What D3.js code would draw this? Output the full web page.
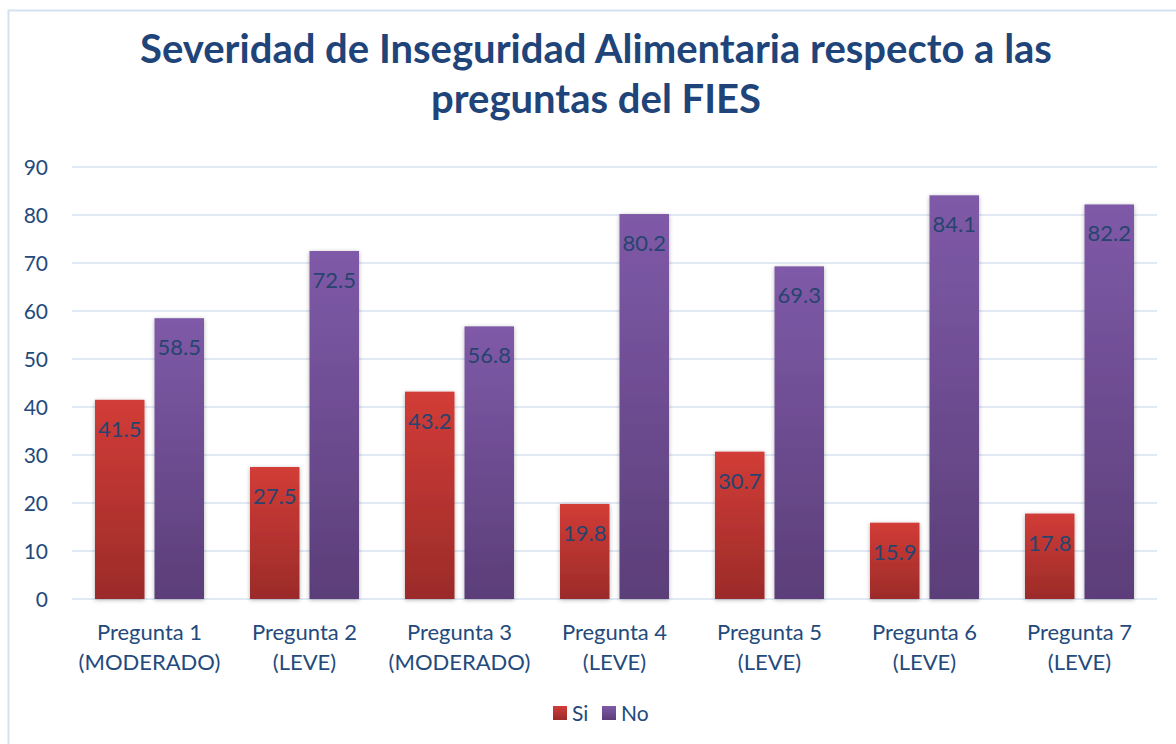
<!DOCTYPE html>
<html><head><meta charset="utf-8">
<script src="https://cdn.jsdelivr.net/npm/d3@7"></script>
<style>body{margin:0;background:#fff;} svg{display:block;}</style>
</head><body>
<script>
const categories = [["Pregunta 1","(MODERADO)"],["Pregunta 2","(LEVE)"],["Pregunta 3","(MODERADO)"],["Pregunta 4","(LEVE)"],["Pregunta 5","(LEVE)"],["Pregunta 6","(LEVE)"],["Pregunta 7","(LEVE)"]];
const siValues = [41.5, 27.5, 43.2, 19.8, 30.7, 15.9, 17.8];
const noValues = [58.5, 72.5, 56.8, 80.2, 69.3, 84.1, 82.2];
const seriesNames = ["Si", "No"];
const yTicks = [0,10,20,30,40,50,60,70,80,90];
const titleLines = ["Severidad de Inseguridad Alimentaria respecto a las", "preguntas del FIES"];

const W = 1176, H = 744;
const font = "Lato, 'Open Sans', sans-serif";
const textCol = "#244a7c";
const svg = d3.select("body").append("svg").attr("width", W).attr("height", H);
const defs = svg.append("defs");
function grad(id, top, bot){
  const g = defs.append("linearGradient").attr("id", id).attr("x1",0).attr("y1",0).attr("x2",0).attr("y2",1);
  g.append("stop").attr("offset","0%").attr("stop-color",top);
  g.append("stop").attr("offset","100%").attr("stop-color",bot);
}
grad("gSi", "#d23c37", "#9b2b29");
grad("gNo", "#7f5aa8", "#5b3e79");
const f = defs.append("filter").attr("id","shadow").attr("x","-20%").attr("y","-5%").attr("width","140%").attr("height","110%");
f.append("feDropShadow").attr("dx",0).attr("dy",1).attr("stdDeviation",2.2).attr("flood-color","#000").attr("flood-opacity",0.3);

// border
svg.append("rect").attr("x",8.5).attr("y",10.5).attr("width",1180).attr("height",760)
  .attr("fill","none").attr("stroke","#d5e2f1").attr("stroke-width",2);

// title
svg.append("g").selectAll("text").data(titleLines).join("text")
  .attr("x", 596).attr("y",(d,i)=>63 + i*50)
  .attr("text-anchor","middle").attr("font-family",font).attr("font-weight","bold")
  .attr("font-size",40).attr("fill","#1f4479").text(d=>d);

const x0 = d3.scaleBand().domain(d3.range(categories.length)).range([72,1157]);
const x1 = d3.scaleBand().domain(seriesNames).range([x0.bandwidth()/2 - 54.5, x0.bandwidth()/2 + 54.5]).paddingInner(0.168);
const y = d3.scaleLinear().domain([0,90]).range([599,167]);

// grid
svg.append("g").selectAll("line").data(yTicks).join("line")
  .attr("x1",72).attr("x2",1157).attr("y1",d=>y(d)).attr("y2",d=>y(d))
  .attr("stroke","#d6e2f0").attr("stroke-width",1.5);

// y axis labels
const yAxis = d3.axisLeft(y).tickValues(yTicks).tickSize(0).tickPadding(0);
const yg = svg.append("g").attr("transform","translate(48,0)").call(yAxis);
yg.select(".domain").remove();
yg.selectAll("text").attr("font-family",font).attr("font-size",21).attr("fill",textCol).attr("dy","0.35em");

const data = categories.map((c,i)=>({i, vals:[{s:"Si",v:siValues[i]},{s:"No",v:noValues[i]}]}));
const groups = svg.append("g").selectAll("g").data(data).join("g")
  .attr("transform", d=>`translate(${x0(d.i)},0)`);
groups.selectAll("rect").data(d=>d.vals).join("rect")
  .attr("x", d=>x1(d.s)).attr("width", x1.bandwidth())
  .attr("y", d=>y(d.v)).attr("height", d=>y(0)-y(d.v))
  .attr("fill", d=> d.s==="Si" ? "url(#gSi)" : "url(#gNo)")
  .attr("filter","url(#shadow)");
groups.selectAll("text.lbl").data(d=>d.vals).join("text").attr("class","lbl")
  .attr("x", d=>x1(d.s)+x1.bandwidth()/2).attr("y", d=>y(d.v)+37)
  .attr("text-anchor","middle").attr("font-family",font).attr("font-size",22)
  .attr("fill","#27446f").text(d=>d.v.toFixed(1));

// x labels
const xg = svg.append("g").selectAll("text").data(categories).join("text")
  .attr("x",(d,i)=>x0(i)+x0.bandwidth()/2).attr("y",640)
  .attr("text-anchor","middle").attr("font-family",font).attr("font-size",22).attr("fill",textCol);
xg.selectAll("tspan").data(d=>d).join("tspan")
  .attr("x",function(){return d3.select(this.parentNode).attr("x");})
  .attr("dy",(d,i)=> i===0?0:30).text(d=>d);

// legend
const leg = svg.append("g");
const legItems = [{n:"Si",fill:"url(#gSi)",x:553},{n:"No",fill:"url(#gNo)",x:602}];
leg.selectAll("rect").data(legItems).join("rect")
  .attr("x",d=>d.x).attr("y",706).attr("width",14).attr("height",14).attr("fill",d=>d.fill);
leg.selectAll("text").data(legItems).join("text")
  .attr("x",d=>d.x+19).attr("y",721).attr("font-family",font).attr("font-size",21).attr("fill",textCol).text(d=>d.n);
</script>
</body></html>
